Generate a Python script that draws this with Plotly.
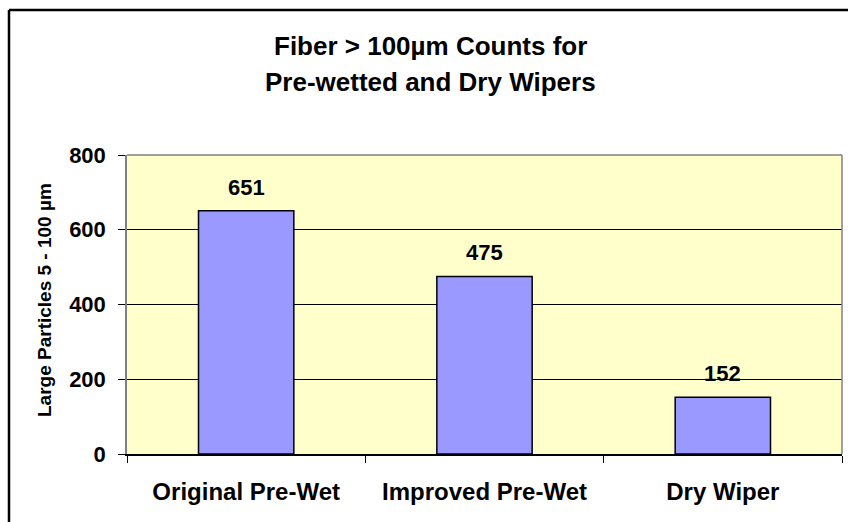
import plotly.graph_objects as go

categories = ["Original Pre-Wet", "Improved Pre-Wet", "Dry Wiper"]
values = [651, 475, 152]
y_ticks = [0, 200, 400, 600, 800]
title_lines = ["Fiber > 100µm Counts for", "Pre-wetted and Dry Wipers"]
y_title = "Large Particles 5 - 100 µm"

FONT = "Liberation Sans"

W, H = 848, 522
L, R, T, B = 127, 6, 155, 68
PW, PH = W - L - R, H - T - B


def px_x(x):
    return (x - L) / PW


def px_y(y):
    return 1 + (T - y) / PH


fig = go.Figure()
fig.add_trace(go.Bar(
    x=categories, y=values, width=0.4,
    marker=dict(color="#9999FF", line=dict(color="black", width=1.5)),
    hoverinfo="x+y",
))

for c, v in zip(categories, values):
    fig.add_annotation(x=c, y=v, text=f"<b>{v}</b>", showarrow=False,
                       yanchor="bottom", yshift=9,
                       font=dict(family=FONT, size=22, color="black"))

fig.add_annotation(xref="paper", yref="paper", x=px_x(44), y=px_y(300),
                   xanchor="center", yanchor="middle", textangle=-90,
                   text=f"<b>{y_title}</b>", showarrow=False,
                   font=dict(family=FONT, size=19, color="black"))

for line, yc in zip(title_lines, [46, 82]):
    fig.add_annotation(xref="paper", yref="paper", x=px_x(430), y=px_y(yc),
                       xanchor="center", yanchor="middle",
                       text=f"<b>{line}</b>", showarrow=False,
                       font=dict(family=FONT, size=26, color="black"))

fig.update_layout(
    width=W, height=H,
    margin=dict(l=L, r=R, t=T, b=B),
    paper_bgcolor="white", plot_bgcolor="#FFFFCC",
    showlegend=False,
    bargap=0.6,
)
fig.update_xaxes(
    tickson="boundaries", ticks="outside", ticklen=7, tickcolor="black",
    showline=True, linecolor="black", linewidth=1.5,
    tickfont=dict(family=FONT, size=24, color="black", weight="bold"),
    showgrid=False, ticklabelstandoff=15,
)
fig.update_yaxes(
    range=[0, 800], tickvals=y_ticks, ticks="outside", ticklen=7,
    tickcolor="black", showline=True, linecolor="#808080", linewidth=1.5,
    showgrid=True, gridcolor="black", gridwidth=1,
    tickfont=dict(family=FONT, size=22, color="black", weight="bold"),
    zeroline=False, ticklabelstandoff=8,
)
# gray top/right plot border
fig.add_shape(type="line", xref="paper", yref="paper", x0=0, x1=1, y0=1, y1=1,
              line=dict(color="#808080", width=1.5))
fig.add_shape(type="line", xref="paper", yref="paper", x0=1, x1=1, y0=0, y1=1,
              line=dict(color="#808080", width=1.5))
# outer chart border: left and top edges (right/bottom lie past the page)
fig.add_shape(type="line", xref="paper", yref="paper",
              x0=px_x(9), x1=px_x(9), y0=px_y(10), y1=px_y(H + 5),
              line=dict(color="black", width=2.5))
fig.add_shape(type="line", xref="paper", yref="paper",
              x0=px_x(9), x1=px_x(W + 5), y0=px_y(10), y1=px_y(10),
              line=dict(color="black", width=2.5))

fig.write_html(
    "out.html",
    config={"displayModeBar": False},
    post_script="document.body.style.margin='0';"
                "document.body.style.overflow='hidden';",
)
